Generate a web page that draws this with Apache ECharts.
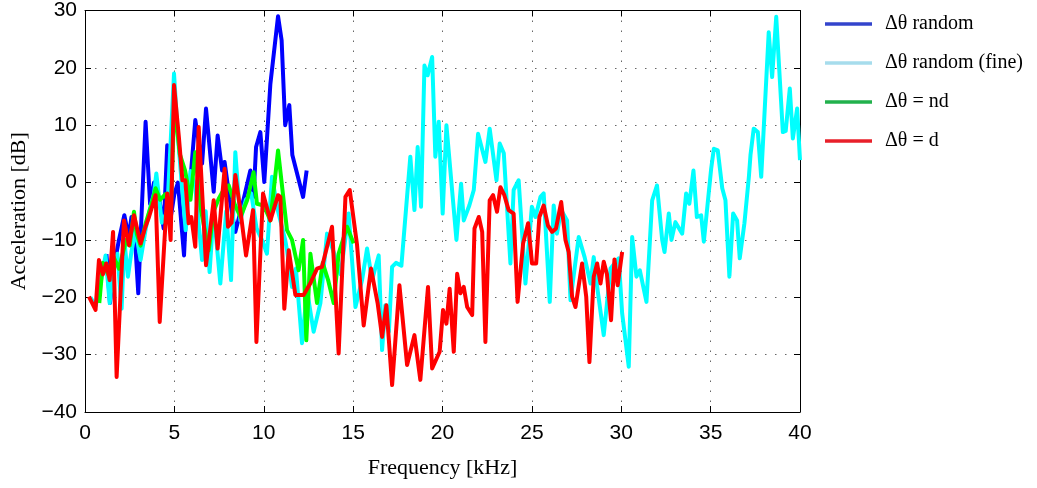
<!DOCTYPE html>
<html>
<head>
<meta charset="utf-8">
<script src="https://cdn.jsdelivr.net/npm/echarts@6/dist/echarts.min.js"></script>
<style>
html,body{margin:0;padding:0;background:#fff;}
#chart{width:1037px;height:488px;}
</style>
</head>
<body>
<div id="chart"></div>
<script>
const seriesNames = ['\u0394\u03b8 random', '\u0394\u03b8 random (fine)', '\u0394\u03b8 = nd', '\u0394\u03b8 = d'];
const xTicks = [0, 5, 10, 15, 20, 25, 30, 35, 40];
const yTicks = [-40, -30, -20, -10, 0, 10, 20, 30];

const randomData = [[1.2,-12.5],[1.4,-21],[1.6,-15],[1.9,-10],[2.2,-5.7],[2.45,-9.5],[2.6,-6],[2.8,-10],[2.98,-19.3],[3.2,-3],[3.39,10.6],[3.64,-3.7],[3.86,0],[4.18,-3.4],[4.4,-8],[4.6,6.5],[4.8,-6],[5.0,-2],[5.2,0],[5.54,-12.7],[5.7,-2],[5.91,1],[6.17,10.9],[6.55,3.3],[6.77,12.9],[7.2,-1.6],[7.42,8.2],[7.67,2.1],[7.81,3.6],[8.1,-3],[8.41,-8.6],[8.88,-2.8],[9.25,2.1],[9.43,-2.5],[9.57,6.2],[9.81,8.8],[10.03,0.1],[10.37,17.2],[10.8,29],[11.0,24.8],[11.2,10],[11.43,13.5],[11.6,4.8],[12.2,-2.5],[12.4,2.1]];

const fineData = [[0.3,-20],[0.6,-21.5],[0.9,-17],[1.15,-12.7],[1.38,-21],[1.6,-15],[1.81,-12.4],[2.05,-22],[2.2,-10],[2.4,-16.4],[2.6,-12],[2.83,-8.3],[3.11,-13.5],[3.4,-8],[3.6,-5],[3.86,-1.9],[3.99,1.6],[4.3,-7],[4.6,-5],[4.98,19],[5.2,8],[5.44,-1.3],[5.63,-8.3],[5.9,2],[6.17,-0.7],[6.55,-13.5],[6.75,-5],[6.97,-15.6],[7.2,-5],[7.57,-17.6],[7.9,-5],[8.17,-17],[8.41,5.3],[8.69,-6.6],[9.0,-3],[9.3,-1.9],[9.6,-8],[9.9,-10],[10.18,-12.4],[10.46,1],[10.8,-5],[11.2,-10],[11.3,-11.8],[11.58,-18.2],[11.8,-15],[12.14,-28],[12.42,-18.8],[12.79,-26],[13.17,-21],[13.54,-8.9],[13.9,-12],[14.3,-16],[14.75,-5.4],[15.13,-21.7],[15.5,-17],[15.78,-11.5],[16.06,-17],[16.43,-12.7],[16.62,-29.2],[16.8,-21.4],[17.0,-26],[17.18,-14.7],[17.4,-14],[17.7,-14.5],[18.2,4.5],[18.43,-4.8],[18.61,6.2],[18.8,-4.2],[18.99,20.4],[19.17,18.7],[19.42,21.9],[19.6,4.5],[19.79,10.6],[20.01,-5.4],[20.22,10],[20.5,0],[20.78,-10],[21.04,-0.2],[21.19,-6.6],[21.5,-4],[21.75,-1.3],[21.99,8.5],[22.4,3.6],[22.64,9.4],[23.02,0.4],[23.2,6.8],[23.43,5.1],[23.8,-14.1],[23.98,-1.3],[24.26,0.4],[24.64,-17.6],[25.0,-4.2],[25.2,-6],[25.48,-2.5],[25.66,-1.9],[26.0,-20.8],[26.22,-4],[26.4,-8.9],[26.64,-4.8],[26.97,-6.6],[27.16,-20.5],[27.62,-9.5],[27.95,-13],[28.28,-17.6],[28.46,-13],[28.68,-18.8],[29.02,-26.6],[29.4,-15],[29.86,-13.2],[30.05,-22.8],[30.42,-32.1],[30.61,-9.5],[30.85,-16.4],[31.04,-15.3],[31.41,-20.8],[31.73,-3.1],[32.0,-0.5],[32.29,-10],[32.42,-12.1],[32.66,-5.4],[32.81,-10],[33.03,-6.9],[33.41,-8.9],[33.63,-1.9],[33.81,-3.7],[34.04,2.1],[34.23,-6],[34.47,-5.7],[34.62,-10.3],[35.03,2.4],[35.18,5.9],[35.4,5.6],[35.65,-1],[35.83,-3.1],[36.05,-16.4],[36.26,-5.4],[36.48,-6.6],[36.63,-13.2],[36.89,-7.1],[37.14,1],[37.23,4.8],[37.41,9.4],[37.64,8.8],[37.83,1],[38.25,26.2],[38.44,18.4],[38.67,28.9],[39.04,8.8],[39.2,9],[39.43,16.4],[39.6,7.7],[39.84,12.9],[40,3.9]];

const ndData = [[0.8,-21],[1.0,-14],[1.3,-16],[1.6,-13],[1.9,-15],[2.3,-10],[2.5,-11],[2.74,-5.1],[2.9,-9],[3.11,-11],[3.4,-7],[3.7,-4],[3.95,-1],[4.2,-3],[4.5,-2],[4.8,-5],[5.0,14],[5.3,5],[5.6,2.1],[5.9,-3],[6.17,5.3],[6.5,-5],[6.92,-11.8],[7.2,-5],[7.48,-2.8],[7.8,-1],[8.04,-0.5],[8.4,-4],[8.7,-6],[9.07,-3.1],[9.43,1.8],[9.62,-3.7],[10.0,-4],[10.37,-6.6],[10.8,5.6],[11.3,-8.3],[11.58,-10],[11.95,-15.3],[12.2,-10],[12.38,-27.5],[12.61,-12.4],[12.98,-21],[13.3,-14],[13.6,-17],[13.91,-21],[14.19,-12.4],[14.66,-7.7],[15.03,-10.6]];

const dData = [[0.22,-19.9],[0.59,-22.2],[0.78,-13.5],[1.0,-16],[1.19,-14.1],[1.38,-17],[1.57,-8.6],[1.77,-33.9],[2.18,-6.6],[2.46,-10.9],[2.74,-5.7],[3.11,-10.6],[3.35,-8],[3.58,-6],[3.95,-2.2],[4.18,-24.3],[4.6,-1.9],[4.79,-10],[4.98,17],[5.25,8],[5.45,0.4],[5.61,0.4],[5.8,-7.1],[5.95,-6],[6.17,-11.2],[6.36,9.7],[6.77,-14.4],[7.2,-3.1],[7.42,-11.5],[7.81,2.4],[8.0,-7.7],[8.2,-7],[8.41,1.3],[8.7,-5],[9.01,-12.7],[9.4,-4.8],[9.59,-27.8],[9.96,-1.9],[10.37,-6.6],[10.8,-2.2],[10.93,-2.5],[11.15,-22],[11.4,-11.8],[11.77,-19.6],[12.23,-19.6],[12.6,-17.6],[12.98,-15],[13.26,-14.7],[13.82,-7.7],[14.19,-29.8],[14.57,-2.5],[14.81,-1.3],[15.22,-10.9],[15.59,-24.9],[16.0,-15],[16.37,-21],[16.62,-26.9],[16.86,-21.4],[17.18,-35.3],[17.59,-17.9],[18.02,-31.8],[18.43,-26.6],[18.76,-34.4],[19.19,-18.2],[19.42,-32.4],[19.84,-29.5],[20.03,-22.2],[20.22,-24.6],[20.4,-18.5],[20.63,-29.5],[20.82,-15.9],[21.0,-19.3],[21.19,-18.2],[21.38,-21.7],[21.66,-23.1],[21.79,-8],[22.03,-6],[22.22,-8.6],[22.4,-27.8],[22.64,-3.1],[22.83,-2.2],[23.05,-5.1],[23.24,-0.8],[23.46,-2.2],[23.7,-4.8],[23.98,-5.4],[24.2,-20.8],[24.51,-10.6],[24.79,-7.1],[25.01,-14.1],[25.24,-14.1],[25.42,-6],[25.66,-4],[25.9,-7.5],[26.13,-8.6],[26.35,-8],[26.64,-3.4],[26.88,-10],[27.06,-12.1],[27.25,-19.9],[27.44,-21.7],[27.81,-14.1],[28.04,-19.9],[28.22,-31.3],[28.46,-16.4],[28.65,-14.1],[28.84,-17.6],[29.02,-13.8],[29.2,-16],[29.43,-24],[29.62,-13.4],[29.8,-17.9],[30.05,-12.1]];

const lineColors = ['#0000ff', '#00ffff', '#00ff00', '#ff0000'];
const legendColors = ['#3344cc', '#a6dcec', '#22b14c', '#e8202a'];
const allData = [randomData, fineData, ndData, dData];

const chart = echarts.init(document.getElementById('chart'), null, {renderer: 'canvas'});
const tickFont = {fontFamily: 'Liberation Sans', fontSize: 21, color: '#000'};
const gridLine = {show: true, lineStyle: {color: '#666', width: 1, type: [1.5, 8.5]}};
const axisLine = {show: true, onZero: false, lineStyle: {color: '#000', width: 1}};
const tick = {show: true, inside: true, length: 6, lineStyle: {color: '#000'}};

const option = {
  backgroundColor: '#fff',
  animation: false,
  grid: {left: 85, right: 237, top: 10, bottom: 76, containLabel: false},
  legend: {
    orient: 'vertical',
    left: 820,
    top: 9,
    itemWidth: 47,
    itemHeight: 16,
    itemGap: 19,
    textStyle: {fontFamily: 'Liberation Serif', fontSize: 20, color: '#000', padding: [0, 0, 0, 8]},
    data: seriesNames.map((n, i) => ({
      name: n,
      icon: 'path://M0,0 L47,0 L47,3.5 L0,3.5 Z',
      itemStyle: {color: legendColors[i]}
    }))
  },
  xAxis: [
    {
      type: 'value', min: 0, max: 40, interval: 5, position: 'bottom',
      name: 'Frequency [kHz]', nameLocation: 'middle', nameGap: 45,
      nameTextStyle: {fontFamily: 'Liberation Serif', fontSize: 22, color: '#000'},
      axisLine: axisLine, axisTick: tick,
      axisLabel: Object.assign({margin: 11, formatter: v => xTicks.includes(v) ? String(v) : ''}, tickFont),
      splitLine: gridLine
    },
    {
      type: 'value', min: 0, max: 40, interval: 5, position: 'top',
      axisLine: axisLine, axisTick: tick,
      axisLabel: {show: false}, splitLine: {show: false}
    }
  ],
  yAxis: [
    {
      type: 'value', min: -40, max: 30, interval: 10, position: 'left',
      name: 'Acceleration [dB]', nameLocation: 'middle', nameGap: 52, nameRotate: 90,
      nameTextStyle: {fontFamily: 'Liberation Serif', fontSize: 22, color: '#000'},
      axisLine: axisLine, axisTick: tick,
      axisLabel: Object.assign({margin: 8, formatter: v => yTicks.includes(v) ? String(v).replace('-', '\u2212') : ''}, tickFont),
      splitLine: gridLine
    },
    {
      type: 'value', min: -40, max: 30, interval: 10, position: 'right',
      axisLine: axisLine, axisTick: tick,
      axisLabel: {show: false}, splitLine: {show: false}
    }
  ],
  series: seriesNames.map((n, i) => ({
    name: n,
    type: 'line',
    xAxisIndex: 0,
    yAxisIndex: 0,
    data: allData[i],
    symbol: 'none',
    showSymbol: false,
    smooth: false,
    clip: true,
    lineStyle: {color: lineColors[i], width: 4, join: 'round'},
    itemStyle: {color: lineColors[i]},
    emphasis: {disabled: true}
  }))
};
chart.setOption(option);
</script>
</body>
</html>
